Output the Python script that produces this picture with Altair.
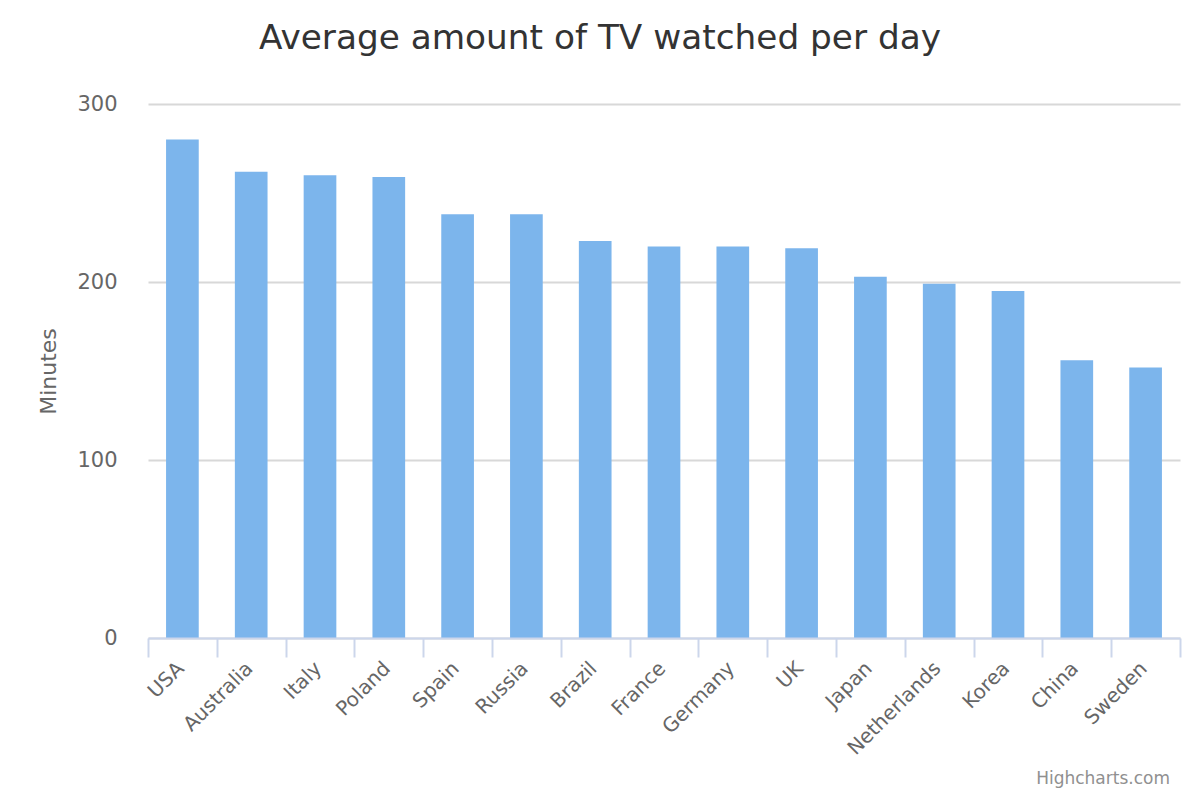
import altair as alt
import pandas as pd

countries = ["USA", "Australia", "Italy", "Poland", "Spain", "Russia", "Brazil",
             "France", "Germany", "UK", "Japan", "Netherlands", "Korea", "China", "Sweden"]
minutes = [280, 262, 260, 259, 238, 238, 223, 220, 220, 219, 203, 199, 195, 156, 152]
y_ticks = [0, 100, 200, 300]
title_text = "Average amount of TV watched per day"
credit_text = "Highcharts.com"

df = pd.DataFrame({"country": countries, "minutes": minutes})

FONT = "DejaVu Sans"

bars = alt.Chart(df).mark_bar(color="#7cb5ec", width=alt.RelativeBandSize(0.475)).encode(
    x=alt.X("country:N", sort=countries, title=None,
            scale=alt.Scale(paddingInner=0, paddingOuter=0),
            axis=alt.Axis(labelAngle=-45, labelAlign="right", labelBaseline="middle",
                          labelFontSize=20, labelColor="#666666", labelFont=FONT,
                          labelPadding=8, labelOffset=-2, tickSize=19, tickBand="extent",
                          tickColor="#ccd6eb", tickWidth=2, domainColor="#ccd6eb",
                          domainWidth=2, grid=False, zindex=1)),
    y=alt.Y("minutes:Q", title="Minutes",
            scale=alt.Scale(domain=[0, 300], nice=False),
            axis=alt.Axis(values=y_ticks, domain=False, ticks=False,
                          labelFontSize=21, labelColor="#666666", labelFont=FONT,
                          labelPadding=31, gridColor="#d8d8d8", gridWidth=2,
                          titleFontSize=22, titleColor="#666666", titleFont=FONT,
                          titleFontWeight="normal", titleAngle=-90,
                          titleX=-100, titleY=267, titleAlign="center",
                          titleBaseline="middle")),
)

credit = alt.Chart(pd.DataFrame({"t": [credit_text]})).mark_text(
    align="right", baseline="alphabetic", fontSize=17, color="#909090", font=FONT
).encode(x=alt.value(1022), y=alt.value(680), text="t:N")

chart = alt.layer(bars, credit).properties(
    width=1032, height=534,
    autosize=alt.AutoSizeParams(type="none"),
    padding={"left": 140, "top": 96, "right": 12, "bottom": 150},
    title=alt.TitleParams(title_text, fontSize=34.3, font=FONT, color="#333333",
                          fontWeight="normal", anchor="middle", dx=-64,
                          offset=10, baseline="alphabetic"),
).configure_view(stroke=None)

chart.save("out.html", embed_options={"renderer": "svg", "actions": False})
